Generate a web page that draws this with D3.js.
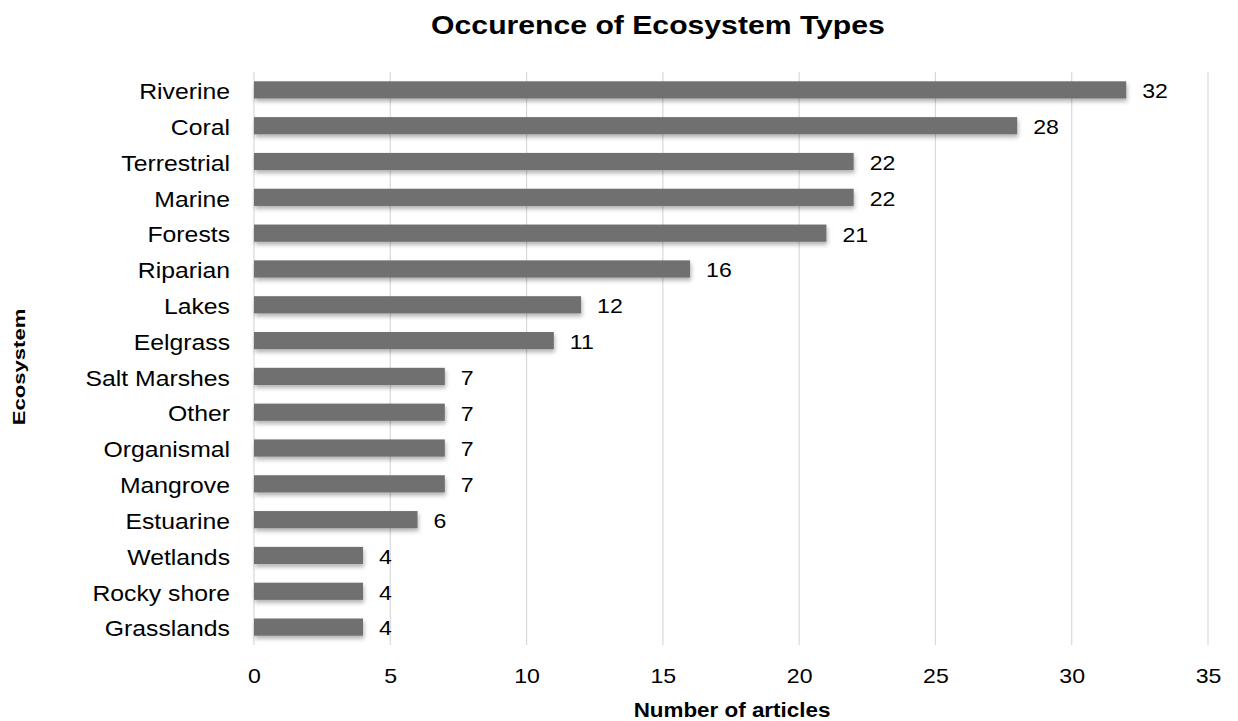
<!DOCTYPE html>
<html>
<head>
<meta charset="utf-8">
<script src="https://cdn.jsdelivr.net/npm/d3@7"></script>
<style>
  body { margin: 0; background: #fff; }
  svg { display: block; font-family: "Liberation Sans", Arial, sans-serif; }
</style>
</head>
<body>
<svg id="chart" width="1238" height="721"></svg>
<script>
const categories = ["Riverine", "Coral", "Terrestrial", "Marine", "Forests", "Riparian", "Lakes", "Eelgrass",
  "Salt Marshes", "Other", "Organismal", "Mangrove", "Estuarine", "Wetlands", "Rocky shore", "Grasslands"];
const counts = [32, 28, 22, 22, 21, 16, 12, 11, 7, 7, 7, 7, 6, 4, 4, 4];
const xTicks = [0, 5, 10, 15, 20, 25, 30, 35];

const svg = d3.select("#chart");
const plotLeft = 254, plotRight = 1208, plotTop = 72, plotBottom = 645;
const FONT = "Liberation Sans, Arial, sans-serif";

// widen glyphs a little: the chart's typeface runs wider than Arial
function widen(sel, factor) {
  sel.each(function () {
    const w = this.getComputedTextLength();
    d3.select(this).attr("textLength", w * factor).attr("lengthAdjust", "spacingAndGlyphs");
  });
}

const x = d3.scaleLinear().domain([0, 35]).range([plotLeft, plotRight]);
const y = d3.scaleBand().domain(categories).range([plotTop, plotBottom]).paddingInner(0.52).paddingOuter(0.26);

// soft drop shadow under the bars
const defs = svg.append("defs");
const f = defs.append("filter").attr("id", "shadow").attr("x", "-5%").attr("y", "-50%").attr("width", "110%").attr("height", "220%");
f.append("feDropShadow").attr("dx", 1).attr("dy", 3).attr("stdDeviation", 2).attr("flood-color", "#000").attr("flood-opacity", 0.3);

// vertical gridlines
svg.append("g").selectAll("line").data(xTicks).join("line")
  .attr("x1", d => x(d)).attr("x2", d => x(d))
  .attr("y1", plotTop).attr("y2", plotBottom)
  .attr("stroke", "#d9d9d9").attr("stroke-width", 1.2);

// bars
svg.append("g").selectAll("rect").data(categories).join("rect")
  .attr("x", x(0)).attr("y", d => y(d))
  .attr("width", (d, i) => x(counts[i]) - x(0))
  .attr("height", y.bandwidth())
  .attr("fill", "#6f6f6f")
  .attr("filter", "url(#shadow)");

// value labels
const vals = svg.append("g").selectAll("text").data(categories).join("text")
  .attr("x", (d, i) => x(counts[i]) + 16)
  .attr("y", d => y(d) + y.bandwidth() / 2)
  .attr("dy", "0.4em")
  .attr("font-size", 21).attr("fill", "#000")
  .text((d, i) => counts[i]);
widen(vals, 1.1);

// category axis
const yAxis = svg.append("g").attr("transform", `translate(${plotLeft},0)`)
  .call(d3.axisLeft(y).tickSize(0).tickPadding(24));
yAxis.select(".domain").remove();
yAxis.selectAll("text").attr("font-size", 22).attr("fill", "#000").attr("font-family", FONT).attr("dy", "0.42em");
widen(yAxis.selectAll("text"), 1.125);

// value axis
const xAxis = svg.append("g").attr("transform", `translate(0,${plotBottom})`)
  .call(d3.axisBottom(x).tickValues(xTicks).tickSize(0).tickPadding(23));
xAxis.select(".domain").remove();
xAxis.selectAll("text").attr("font-size", 21).attr("fill", "#000").attr("font-family", FONT);
widen(xAxis.selectAll("text"), 1.1);

// title
const title = svg.append("text").attr("x", 658).attr("y", 34).attr("text-anchor", "middle")
  .attr("font-size", 26).attr("font-weight", "bold").text("Occurence of Ecosystem Types");
widen(title, 1.16);

// axis titles
const xTitle = svg.append("text").attr("x", 732).attr("y", 717).attr("text-anchor", "middle")
  .attr("font-size", 20).attr("font-weight", "bold").text("Number of articles");
widen(xTitle, 1.12);
const yTitle = svg.append("text").attr("transform", "translate(25,367) rotate(-90)").attr("text-anchor", "middle")
  .attr("font-size", 17).attr("font-weight", "bold").text("Ecosystem");
widen(yTitle, 1.3);
</script>
</body>
</html>
